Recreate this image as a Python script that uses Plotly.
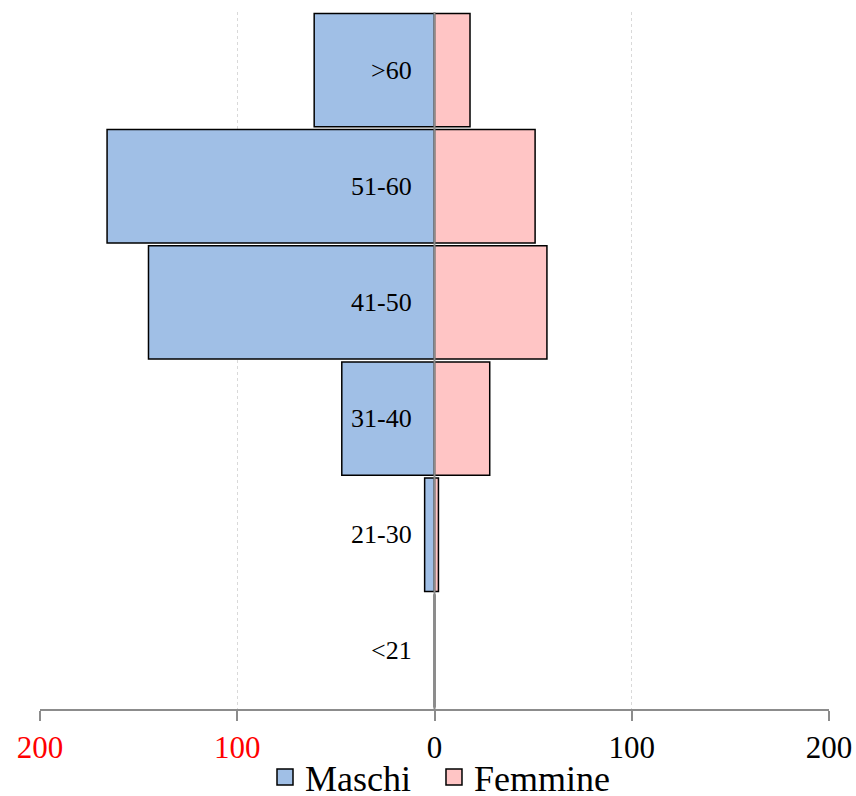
import plotly.graph_objects as go

categories = ["<21", "21-30", "31-40", "41-50", "51-60", ">60"]
maschi = [0, 5, 47, 145, 166, 61]
femmine = [0, 2, 28, 57, 51, 18]
tick_vals = [-200, -100, 0, 100, 200]
tick_labels = ["<span style='color:red'>200</span>", "<span style='color:red'>100</span>", "0", "100", "200"]
legend_names = ["Maschi\u00a0\u00a0", "Femmine"]

FONT = "Liberation Serif"
BLUE = "#A0BFE6"
PINK = "#FFC5C5"

W, H = 856, 796

fig = go.Figure()
fig.add_trace(go.Bar(
    y=categories, x=[-v for v in maschi], orientation="h", name="Maschi", showlegend=False,
    marker=dict(color=BLUE, line=dict(color="black", width=1.5)),
))
fig.add_trace(go.Bar(
    y=categories, x=femmine, orientation="h", name="Femmine", showlegend=False,
    marker=dict(color=PINK, line=dict(color="black", width=1.5)),
))
for name, col in zip(legend_names, [BLUE, PINK]):
    fig.add_trace(go.Scatter(
        x=[None], y=[None], mode="markers", name=name, showlegend=True,
        marker=dict(symbol="square", size=20, color=col, line=dict(color="black", width=1.5)),
    ))

for c in categories:
    fig.add_annotation(x=0, y=c, xref="x", yref="y", text=c, showarrow=False,
                       xanchor="right", xshift=-21, font=dict(family=FONT, size=26, color="black"))

fig.add_shape(type="line", x0=0, x1=0, y0=0, y1=1, xref="x", yref="paper",
              line=dict(color="#8c8c8c", width=2), layer="above")

fig.update_layout(
    width=W, height=H,
    margin=dict(l=40, r=27, t=12, b=87, autoexpand=False),
    paper_bgcolor="white", plot_bgcolor="white",
    barmode="relative", bargap=0.025,
    font=dict(family=FONT, color="black"),
    showlegend=True,
    legend=dict(orientation="h", x=440 / W, xanchor="center", xref="container",
                y=(H - 777) / H, yanchor="middle", yref="container",
                font=dict(family=FONT, size=36), itemsizing="trace", traceorder="normal",
                itemwidth=30, tracegroupgap=0, bgcolor="rgba(0,0,0,0)"),
    xaxis=dict(range=[-200, 200], tickvals=tick_vals, ticktext=tick_labels,
               tickfont=dict(family=FONT, size=31, color="black"),
               showgrid=True, gridcolor="#d9d9d9", griddash="dot", gridwidth=1,
               zeroline=False, showline=True, linecolor="#8c8c8c", linewidth=2,
               ticks="outside", ticklen=10, tickwidth=2, tickcolor="#8c8c8c",
               automargin=False, fixedrange=True),
    yaxis=dict(range=[-0.5, 5.5], showticklabels=False, showgrid=False, zeroline=False,
               showline=False, ticks="", automargin=False, fixedrange=True),
)

fig.write_html("out.html", config={"displayModeBar": False},
               post_script="document.body.style.margin='0px';")
